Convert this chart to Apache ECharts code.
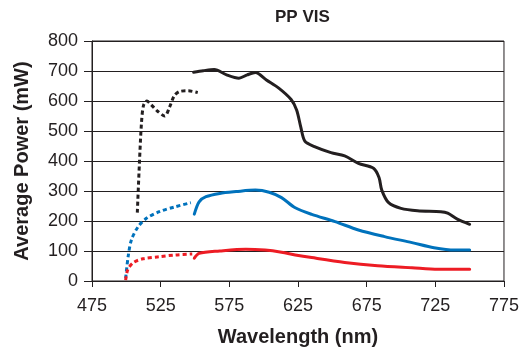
<!DOCTYPE html>
<html>
<head>
<meta charset="utf-8">
<script src="https://cdn.jsdelivr.net/npm/echarts@6/dist/echarts.min.js"></script>
<style>
  html, body { margin: 0; padding: 0; background: #fff; }
  #main { width: 522px; height: 354px; }
</style>
</head>
<body>
<div id="main"></div>
<script>
// wavelength (nm) / average power (mW)
let blackDotX  = [508, 509.5, 511, 512.5, 515, 518, 523, 528, 531.5, 535, 539, 545, 552];
let blackDotY  = [228, 390, 525, 585, 600, 588, 565, 550, 580, 618, 632, 634, 628];
let blackX     = [549, 556, 564, 573, 582, 588, 594, 602, 611, 620, 624, 627, 630, 637, 649, 659, 669, 680, 684, 686, 691, 700, 712, 729, 734, 741, 750];
let blackY     = [696, 701, 705, 687, 676, 687, 695, 670, 643, 605, 570, 514, 466, 448, 428, 417, 392, 376, 345, 303, 261, 242, 234, 231, 226, 206, 189];
let blueDotX   = [499.5, 501.3, 503.7, 508.6, 514.6, 524, 536, 547];
let blueDotY   = [9, 81, 137, 181, 209, 231, 248, 261];
let blueX      = [549.5, 553, 558, 568, 580, 594, 604, 613, 623, 635, 652, 669, 688, 708, 724, 739, 750];
let blueY      = [223, 264, 281, 292, 298, 303, 296, 278, 244, 222, 198, 170, 148, 128, 111, 103, 103];
let redDotX    = [499.5, 501, 505, 512, 524, 536, 548];
let redDotY    = [3, 37, 61, 74, 81, 87, 90];
let redX       = [549.5, 553, 568, 587, 601, 613, 623, 635, 659, 683, 708, 727, 750];
let redY       = [76, 92, 100, 106, 103, 96, 87, 78, 62, 51, 44, 39, 39];

const FONT = "Liberation Sans";
const INK = "#231f20";

function pairs(xs, ys){
    return xs.map((x, i) => [x, ys[i]]);
}

function line(xs, ys, color, dotted){
    return {
        type: "line",
        data: pairs(xs, ys),
        smooth: 0.3,
        showSymbol: false,
        silent: true,
        lineStyle: {
            color: color,
            width: 3,
            type: dotted ? [4, 3] : "solid",
            cap: dotted ? "butt" : "round"
        }
    };
}

let myChart = echarts.init(document.getElementById("main"));
myChart.setOption({
    animation: false,
    title: {
        text: "PP VIS",
        left: 270,
        top: 4,
        textStyle: { fontFamily: FONT, fontSize: 17, fontWeight: "bold", color: INK }
    },
    grid: {
        left: 92, right: 16, top: 41, bottom: 73,
        show: true, borderColor: INK, borderWidth: 1
    },
    xAxis: {
        type: "value",
        min: 475, max: 775, interval: 50,
        name: "Wavelength (nm)",
        nameLocation: "middle",
        nameGap: 46,
        nameTextStyle: { fontFamily: FONT, fontSize: 20, fontWeight: "bold", color: INK },
        axisLine: { lineStyle: { color: INK, width: 1 } },
        axisTick: { length: 6, lineStyle: { color: INK } },
        axisLabel: { fontFamily: FONT, fontSize: 18, color: INK, margin: 16 },
        splitLine: { show: false }
    },
    yAxis: {
        type: "value",
        min: 0, max: 800, interval: 100,
        name: "Average Power (mW)",
        nameLocation: "middle",
        nameGap: 60,
        nameTextStyle: { fontFamily: FONT, fontSize: 20, fontWeight: "bold", color: INK },
        axisLine: { show: true, lineStyle: { color: INK, width: 1 } },
        axisTick: { show: true, length: 8, lineStyle: { color: INK } },
        axisLabel: { fontFamily: FONT, fontSize: 18, color: INK, margin: 14 },
        splitLine: { lineStyle: { color: INK, width: 1 } }
    },
    series: [
        line(blackDotX, blackDotY, INK, true),
        line(blackX, blackY, INK, false),
        line(blueDotX, blueDotY, "#0072bc", true),
        line(blueX, blueY, "#0072bc", false),
        line(redDotX, redDotY, "#ed1c24", true),
        line(redX, redY, "#ed1c24", false)
    ]
});
</script>
</body>
</html>
